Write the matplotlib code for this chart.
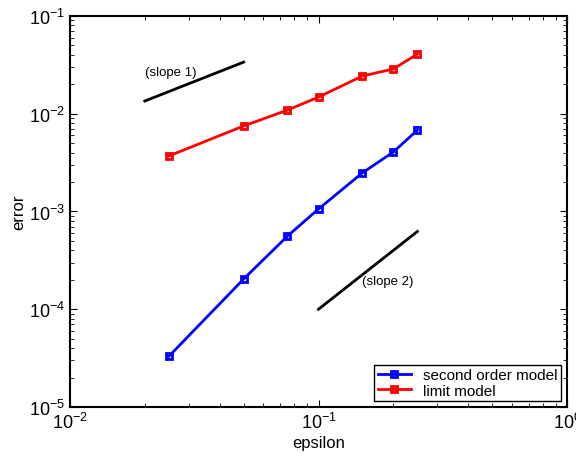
import matplotlib
matplotlib.use('Agg')
import matplotlib.pyplot as plt

plt.rcParams['font.family'] = ['Liberation Sans', 'DejaVu Sans']

epsilon = [0.025, 0.05, 0.075, 0.1, 0.15, 0.2, 0.25]
err_second = [3.3e-5, 2.04e-4, 5.6e-4, 1.06e-3, 2.48e-3, 4.06e-3, 6.8e-3]
err_limit = [3.7e-3, 7.5e-3, 1.09e-2, 1.48e-2, 2.43e-2, 2.87e-2, 4.08e-2]

slope1_x = [0.02, 0.05]
slope1_y = [0.0135, 0.03375]
slope2_x = [0.1, 0.25]
slope2_y = [1e-4, 6.25e-4]

fig = plt.figure(figsize=(5.76, 4.64), dpi=100)
ax = fig.add_axes([70 / 576, 1 - 408 / 464, 497 / 576, 391 / 464])

ax.loglog(epsilon, err_second, '-s', color='blue', lw=2, ms=5,
          mfc='none', mew=2, label='second order model')
ax.loglog(epsilon, err_limit, '-s', color='red', lw=2, ms=5,
          mfc='none', mew=2, label='limit model')
ax.loglog(slope1_x, slope1_y, 'k-', lw=2)
ax.loglog(slope2_x, slope2_y, 'k-', lw=2)
ax.text(0.02, 0.0267, '(slope 1)', fontsize=9.5, va='center', ha='left')
ax.text(0.15, 1.95e-4, '(slope 2)', fontsize=9.5, va='center', ha='left')

ax.set_xlim(1e-2, 1e0)
ax.set_ylim(1e-5, 1e-1)
ax.set_xlabel('epsilon', fontsize=12, labelpad=2)
ax.set_ylabel('error', fontsize=12, labelpad=2)
ax.tick_params(which='both', direction='in', top=True, right=True, labelsize=13)
ax.tick_params(which='major', length=5)
ax.tick_params(which='minor', length=3)
for s in ax.spines.values():
    s.set_linewidth(1.5)

leg = ax.legend(loc='lower right', fontsize=11, fancybox=False,
                edgecolor='black', framealpha=1, borderaxespad=0.4,
                handlelength=2.2, borderpad=0.2, labelspacing=0.1)
leg.get_frame().set_linewidth(1.0)

fig.savefig('out.png', dpi=100)
